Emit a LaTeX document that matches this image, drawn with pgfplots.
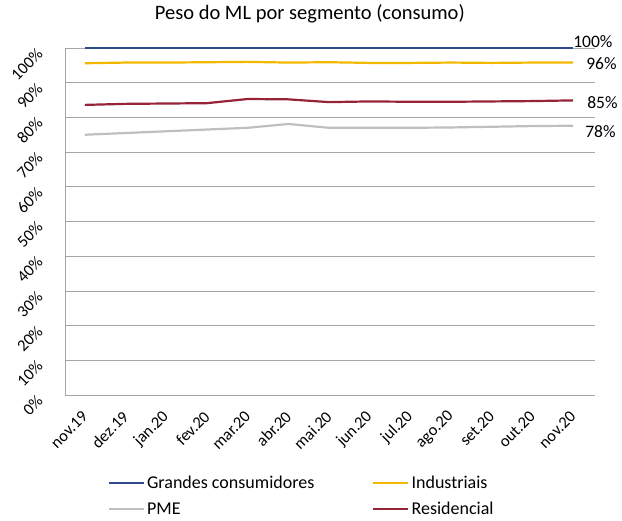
\documentclass[border=0pt]{standalone}
\usepackage{pgfplots}
\pgfplotsset{compat=1.18}
\usepackage{fontspec}
\setmainfont{Carlito}

\definecolor{cgrandes}{HTML}{2F4A8C}
\definecolor{cind}{HTML}{F2B800}
\definecolor{cpme}{HTML}{BFBFBF}
\definecolor{cres}{HTML}{962337}
\definecolor{cgrid}{HTML}{A6A6A6}

\begin{document}
\begin{tikzpicture}
\begin{axis}[
  scale only axis,
  width=530bp, height=347bp,
  xmin=-0.49, xmax=12.54,
  ymin=0, ymax=100,
  axis x line*=bottom, axis y line*=left,
  axis line style={cgrid, line width=0.8bp, -},
  xtick={0,...,12},
  xticklabels={nov.19,dez.19,jan.20,fev.20,mar.20,abr.20,mai.20,jun.20,jul.20,ago.20,set.20,out.20,nov.20},
  ytick={0,10,...,100},
  yticklabel={\pgfmathprintnumber{\tick}\%},
  /pgf/number format/assume math mode=true,
  major tick length=0pt,
  ymajorgrids,
  grid style={cgrid, line width=0.8bp},
  xticklabel style={font=\fontsize{16.5bp}{19bp}\selectfont, anchor=east, inner sep=0pt, xshift=0bp, yshift=-19bp, rotate=45},
  yticklabel style={font=\fontsize{16.5bp}{19bp}\selectfont, anchor=east, inner sep=0pt, xshift=-25bp, yshift=-3bp, rotate=45},
  title={Peso do ML por segmento (consumo)},
  title style={font=\fontsize{20.5bp}{24bp}\selectfont, at={(0.462,1.08)}, anchor=center},
  legend columns=2,
  legend cell align=left,
  legend style={draw=none, fill=none, at={(0.075,-0.222)}, anchor=north west,
    font=\fontsize{18bp}{21bp}\selectfont,
    /tikz/every even column/.append style={column sep=56bp},
    row sep=8bp},
  legend image code/.code={\draw[#1] (0bp,0bp) -- (35bp,0bp);},
  clip=false,
]
\path (rel axis cs:-0.1226,-0.3458) rectangle (rel axis cs:1.0509,1.1383);

\addplot[cgrandes, line width=2.2bp] coordinates {
  (0,100) (1,100) (2,100) (3,100) (4,100) (5,100) (6,100) (7,100) (8,100) (9,100) (10,100) (11,100) (12,100)};
\addlegendentry{Grandes consumidores}
\addplot[cind, line width=2.2bp] coordinates {
  (0,95.6) (1,95.8) (2,95.8) (3,95.9) (4,96.0) (5,95.8) (6,95.9) (7,95.7) (8,95.7) (9,95.8) (10,95.7) (11,95.8) (12,95.8)};
\addlegendentry{Industriais}
\addplot[cpme, line width=2.2bp] coordinates {
  (0,75.0) (1,75.5) (2,76.0) (3,76.5) (4,77.0) (5,78.1) (6,77.0) (7,77.0) (8,77.0) (9,77.1) (10,77.3) (11,77.5) (12,77.6)};
\addlegendentry{PME}
\addplot[cres, line width=2.2bp] coordinates {
  (0,83.6) (1,83.9) (2,84.0) (3,84.1) (4,85.3) (5,85.2) (6,84.4) (7,84.6) (8,84.5) (9,84.5) (10,84.6) (11,84.7) (12,84.9)};
\addlegendentry{Residencial}

\node[anchor=south west, inner sep=0pt, font=\fontsize{17.5bp}{20bp}\selectfont] at (axis cs:12,100) {100\%};
\node[anchor=west, inner sep=0pt, xshift=13bp, yshift=-1bp, font=\fontsize{17.5bp}{20bp}\selectfont] at (axis cs:12,95.8) {96\%};
\node[anchor=west, inner sep=0pt, xshift=14bp, yshift=-2bp, font=\fontsize{17.5bp}{20bp}\selectfont] at (axis cs:12,84.9) {85\%};
\node[anchor=west, inner sep=0pt, xshift=12bp, yshift=-6bp, font=\fontsize{17.5bp}{20bp}\selectfont] at (axis cs:12,77.6) {78\%};
\end{axis}
\end{tikzpicture}
\end{document}
